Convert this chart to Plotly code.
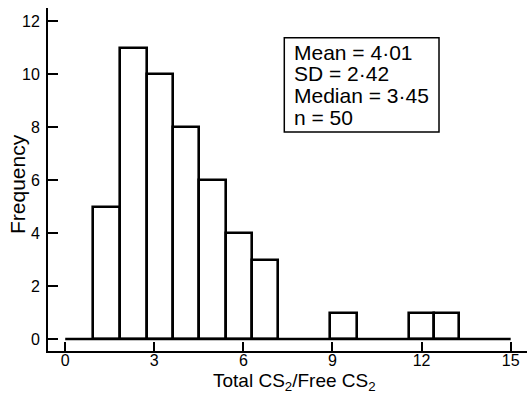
import plotly.graph_objects as go

# Histogram bins (left edge, right edge) and frequencies of total CS2 / free CS2 ratio
bin_left = [0.93, 1.83, 2.75, 3.62, 4.51, 5.41, 6.28, 8.92, 11.56, 12.42]
bin_right = [1.83, 2.75, 3.62, 4.51, 5.41, 6.28, 7.18, 9.82, 12.42, 13.27]
counts = [5, 11, 10, 8, 6, 4, 3, 1, 1, 1]

x_ticks = [0, 3, 6, 9, 12, 15]
y_ticks = [0, 2, 4, 6, 8, 10, 12]

stats_lines = ["Mean = 4·01", "SD = 2·42", "Median = 3·45", "n = 50"]

centers = [(a + b) / 2 for a, b in zip(bin_left, bin_right)]
widths = [b - a for a, b in zip(bin_left, bin_right)]

FONT = "Liberation Sans, Arial, sans-serif"

fig = go.Figure()
fig.add_trace(go.Bar(
    x=centers, y=counts, width=widths,
    marker=dict(color="white", line=dict(color="black", width=2.6)),
    showlegend=False, hoverinfo="skip",
))

# baseline under the bars spanning the labelled x range
fig.add_shape(type="line", xref="x", yref="y",
              x0=x_ticks[0], x1=x_ticks[-1], y0=0, y1=0,
              line=dict(color="black", width=2.6))

# statistics box
fig.add_shape(type="rect", xref="paper", yref="paper",
              x0=0.4933, x1=0.8163, y0=0.6385, y1=0.9134,
              line=dict(color="black", width=1.5), fillcolor="white")
line_y = [0.8711, 0.8079, 0.7446, 0.6816]
for txt, yy in zip(stats_lines, line_y):
    fig.add_annotation(text=txt, xref="paper", yref="paper",
                       x=0.5088, y=yy, xanchor="left", yanchor="middle",
                       showarrow=False, font=dict(family=FONT, size=21, color="black"))

# axis titles
fig.add_annotation(text="Total CS<sub>2</sub>/Free CS<sub>2</sub>", xref="paper", yref="paper",
                   x=0.5136, y=-0.089, xanchor="center", yanchor="middle",
                   showarrow=False, font=dict(family=FONT, size=19, color="black"))
fig.add_annotation(text="Frequency", xref="paper", yref="paper",
                   x=-0.0637, y=0.4883, xanchor="center", yanchor="middle", textangle=-90,
                   showarrow=False, font=dict(family=FONT, size=21, color="black"))

fig.update_layout(
    width=527, height=393,
    margin=dict(l=48, r=0, t=8, b=42),
    paper_bgcolor="white", plot_bgcolor="white",
    font=dict(family=FONT, color="black"),
    bargap=0,
)
fig.update_xaxes(
    range=[-0.58, 15.55], tickvals=x_ticks, ticktext=[str(v) for v in x_ticks],
    showgrid=False, zeroline=False, showline=True, linecolor="black", linewidth=2,
    ticks="inside", ticklen=9, tickwidth=2, tickcolor="black",
    tickfont=dict(size=16), ticklabelstandoff=-6,
)
fig.update_yaxes(
    range=[-0.45, 12.49], tickvals=y_ticks, ticktext=[str(v) for v in y_ticks],
    showgrid=False, zeroline=False, showline=True, linecolor="black", linewidth=2,
    ticks="inside", ticklen=10, tickwidth=2, tickcolor="black",
    tickfont=dict(size=16), ticklabelstandoff=3,
)

fig.write_html("out.html")
